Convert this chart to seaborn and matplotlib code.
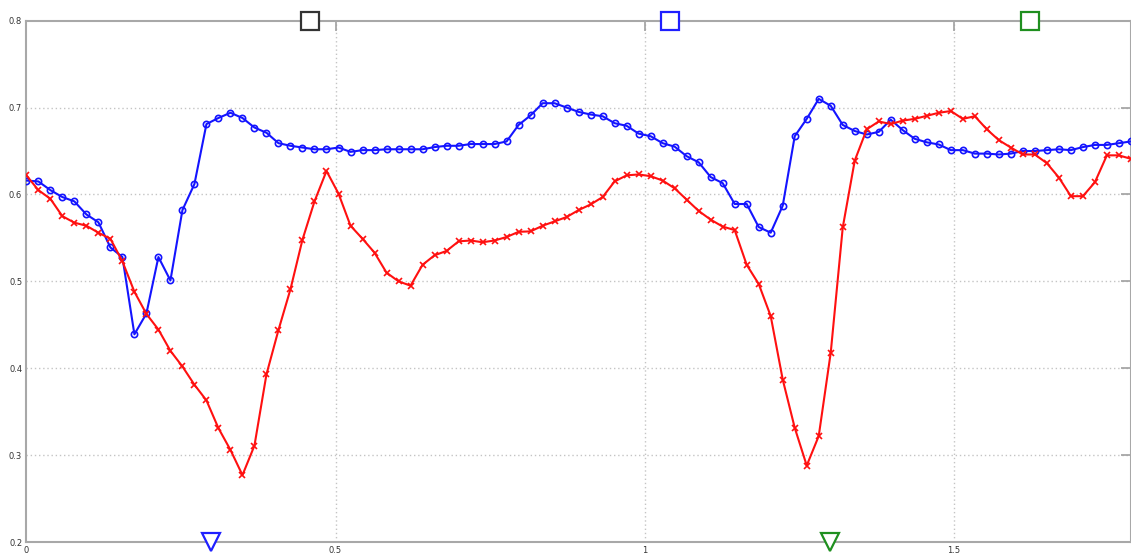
import numpy as np
import pandas as pd
import matplotlib
matplotlib.use("Agg")
import matplotlib.pyplot as plt
import seaborn as sns

# Sample spacing of both traces (time axis)
dt = 0.019417

blue_vals = [
    0.616, 0.615, 0.605, 0.597, 0.592, 0.577, 0.568, 0.539, 0.528, 0.439,
    0.463, 0.528, 0.501, 0.582, 0.612, 0.681, 0.688, 0.694, 0.688, 0.677,
    0.671, 0.659, 0.656, 0.654, 0.652, 0.652, 0.654, 0.649, 0.651, 0.651,
    0.652, 0.652, 0.652, 0.652, 0.6545, 0.656, 0.656, 0.658, 0.658, 0.658,
    0.661, 0.680, 0.691, 0.705, 0.705, 0.700, 0.695, 0.692, 0.690, 0.682,
    0.679, 0.670, 0.667, 0.659, 0.655, 0.644, 0.637, 0.620, 0.613, 0.589,
    0.589, 0.5625, 0.556, 0.587, 0.667, 0.687, 0.710, 0.702, 0.680, 0.673,
    0.669, 0.672, 0.686, 0.674, 0.664, 0.660, 0.6575, 0.651, 0.651, 0.647,
    0.647, 0.646, 0.647, 0.650, 0.650, 0.651, 0.652, 0.651, 0.6545, 0.657,
    0.657, 0.659, 0.661,
]

red_vals = [
    0.622, 0.605, 0.595, 0.575, 0.5675, 0.564, 0.556, 0.549, 0.523, 0.488,
    0.4625, 0.4445, 0.420, 0.402, 0.381, 0.363, 0.331, 0.306, 0.277, 0.311,
    0.393, 0.444, 0.491, 0.548, 0.592, 0.627, 0.601, 0.564, 0.549, 0.533,
    0.510, 0.500, 0.495, 0.519, 0.530, 0.535, 0.546, 0.547, 0.545, 0.547,
    0.551, 0.557, 0.5575, 0.564, 0.569, 0.574, 0.582, 0.5885, 0.597, 0.615,
    0.622, 0.623, 0.621, 0.616, 0.607, 0.594, 0.581, 0.571, 0.563, 0.559,
    0.519, 0.497, 0.460, 0.387, 0.3315, 0.288, 0.322, 0.418, 0.562, 0.639,
    0.675, 0.684, 0.681, 0.685, 0.687, 0.6905, 0.694, 0.696, 0.687, 0.690,
    0.675, 0.6625, 0.654, 0.646, 0.646, 0.636, 0.6195, 0.598, 0.598, 0.614,
    0.645, 0.645, 0.641,
]

# Event markers along the top and bottom edges
square_x = [0.4595, 1.041, 1.6235]
square_colors = ["#333333", "#1f1fff", "#1f8f1f"]
triangle_x = [0.2994, 1.2994]
triangle_colors = ["#1f1fff", "#1f8f1f"]

x_ticks = [0, 0.5, 1, 1.5]
x_tick_labels = ["0", "0.5", "1", "1.5"]
y_ticks = [0.2, 0.3, 0.4, 0.5, 0.6, 0.7, 0.8]
y_tick_labels = ["0.2", "0.3", "0.4", "0.5", "0.6", "0.7", "0.8"]

t = np.arange(len(blue_vals)) * dt
df = pd.DataFrame({"t": t, "blue": blue_vals, "red": red_vals})

sns.set_theme(style="white")
plt.rcParams["font.family"] = ["DejaVu Sans"]

fig = plt.figure(figsize=(11.31, 5.57), dpi=100)
ax = fig.add_axes([0.0233, 0.0269, 0.9766, 0.936])

grid_kw = dict(color="#c4c4c4", linestyle=(0, (1, 2)), linewidth=1.0, zorder=0)
for yv in y_ticks[1:-1]:
    ax.axhline(yv, **grid_kw)
for xv in x_ticks[1:]:
    ax.axvline(xv, **grid_kw)

sns.lineplot(data=df, x="t", y="blue", ax=ax, color="#1414ff", linewidth=1.5,
             marker="o", markersize=4.5, markerfacecolor="none",
             markeredgecolor="#1414ff", markeredgewidth=1.2, zorder=3)
sns.lineplot(data=df, x="t", y="red", ax=ax, color="#ff1010", linewidth=1.5,
             marker="x", markersize=4.5, markeredgecolor="#ff1010",
             markeredgewidth=1.2, zorder=3)

for xv, c in zip(square_x, square_colors):
    ax.plot([xv], [0.8], marker="s", markersize=13, markerfacecolor="white",
            markeredgecolor=c, markeredgewidth=1.6, clip_on=False, zorder=5)
for xv, c in zip(triangle_x, triangle_colors):
    ax.plot([xv], [0.2], marker="v", markersize=13, markerfacecolor="white",
            markeredgecolor=c, markeredgewidth=1.6, clip_on=False, zorder=5)

ax.set_xlim(0, t[-1])
ax.set_ylim(0.2, 0.8)
ax.set_xticks(x_ticks)
ax.set_xticklabels(x_tick_labels)
ax.set_yticks(y_ticks)
ax.set_yticklabels(y_tick_labels)
ax.set_xlabel("")
ax.set_ylabel("")
ax.tick_params(axis="both", direction="in", length=7, width=1.2,
               color="#a0a0a0", labelsize=6, labelcolor="#333333",
               top=True, right=True, pad=3)
for s in ax.spines.values():
    s.set_color("#a8a8a8")
    s.set_linewidth(1.5)

fig.savefig("out.png", dpi=100)
